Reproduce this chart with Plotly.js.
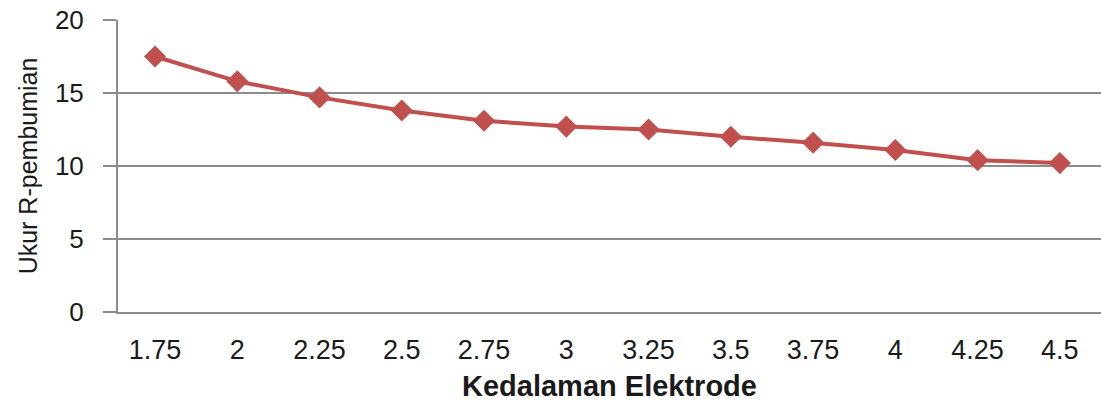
<!DOCTYPE html>
<html>
<head>
<meta charset="utf-8">
<script src="https://cdn.plot.ly/plotly-3.0.1.min.js"></script>
<style>html,body{margin:0;padding:0;background:#fff;}#chart{width:1101px;height:402px;}</style>
</head>
<body>
<div id="chart"></div>
<script>
const categories = ["1.75", "2", "2.25", "2.5", "2.75", "3", "3.25", "3.5", "3.75", "4", "4.25", "4.5"];
const resistance = [17.5, 15.8, 14.7, 13.8, 13.1, 12.7, 12.5, 12.0, 11.6, 11.1, 10.4, 10.2];
const yTicks = [0, 5, 10, 15, 20];
const xTitle = "Kedalaman Elektrode";
const yTitle = "Ukur R-pembumian";

const trace = {
  x: categories,
  y: resistance,
  type: "scatter",
  mode: "lines+markers",
  line: {color: "#C0504D", width: 4},
  marker: {symbol: "diamond", size: 17, color: "#C0504D"},
  hoverinfo: "x+y"
};

const layout = {
  width: 1101,
  height: 402,
  margin: {l: 118, r: 0, t: 20, b: 90, pad: 0},
  paper_bgcolor: "#ffffff",
  plot_bgcolor: "#ffffff",
  showlegend: false,
  font: {family: "Liberation Sans, Arial, sans-serif", color: "#1a1a1a", size: 26},
  xaxis: {
    type: "category",
    range: [-0.45, 11.5],
    showgrid: false,
    zeroline: false,
    showline: true,
    linecolor: "#8c8c8c",
    linewidth: 2,
    ticks: "",
    ticklabelstandoff: 13,
    tickfont: {size: 27, color: "#1a1a1a"},
    title: {text: xTitle, font: {size: 29, color: "#1a1a1a", family: "Liberation Sans, Arial, sans-serif", weight: "bold"}, standoff: 12},
    automargin: false
  },
  yaxis: {
    range: [0, 20],
    tickvals: yTicks,
    showgrid: true,
    gridcolor: "#8c8c8c",
    gridwidth: 2,
    zeroline: false,
    showline: true,
    linecolor: "#8c8c8c",
    linewidth: 2,
    ticks: "outside",
    ticklen: 13,
    tickwidth: 2,
    tickcolor: "#8c8c8c",
    ticklabelstandoff: 14,
    tickfont: {size: 26, color: "#1a1a1a"},
    title: {text: yTitle, font: {size: 25, color: "#1a1a1a"}, standoff: 10},
    automargin: false
  }
};

Plotly.newPlot("chart", [trace], layout, {displayModeBar: false, staticPlot: true});
</script>
</body>
</html>
